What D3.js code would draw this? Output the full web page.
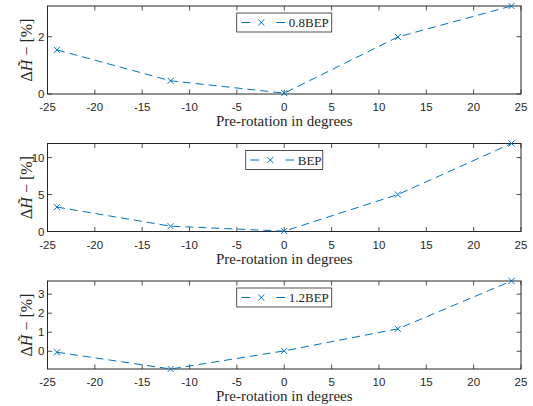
<!DOCTYPE html>
<html>
<head>
<meta charset="utf-8">
<script src="https://cdn.jsdelivr.net/npm/d3@7"></script>
<style>
  body { margin: 0; background: #fff; }
  svg { display: block; }
  .tick-label { font-family: "Liberation Sans", Arial, sans-serif; font-size: 11.5px; fill: #262626; }
  .serif { font-family: "Liberation Serif", "DejaVu Serif", serif; fill: #262626; }
</style>
</head>
<body>
<div id="chart"></div>
<script>
// Data
const rotation = [-24, -12, 0, 12, 24];
const head08 = [1.54, 0.46, 0.03, 1.99, 3.07];
const headBEP = [3.3, 0.72, 0.05, 5.0, 11.9];
const head12 = [-0.05, -0.93, 0.02, 1.18, 3.69];
const seriesLabels = ['0.8BEP', 'BEP', '1.2BEP'];
const xTicks = [-25, -20, -15, -10, -5, 0, 5, 10, 15, 20, 25];
const yTicks08 = [0, 2];
const yTicksBEP = [0, 5, 10];
const yTicks12 = [0, 1, 2, 3];

const width = 533, height = 406;
const color = '#0072BD';
const axisColor = '#262626';

const svg = d3.select('#chart').append('svg')
    .attr('width', width)
    .attr('height', height);

const panels = [
    { values: head08, ticks: yTicks08, label: seriesLabels[0], top: 6, legendW: 95 },
    { values: headBEP, ticks: yTicksBEP, label: seriesLabels[1], top: 143.5, legendW: 77 },
    { values: head12, ticks: yTicks12, label: seriesLabels[2], top: 281, legendW: 95 }
];

const left = 47.5, right = 521, plotH = 88;

const x = d3.scaleLinear().domain([-25, 25]).range([left, right]);

function cross(sel, cx, cy, s) {
    sel.append('path')
        .attr('d', `M${cx - s},${cy - s}L${cx + s},${cy + s}M${cx - s},${cy + s}L${cx + s},${cy - s}`)
        .attr('stroke', color).attr('stroke-width', 1);
}

panels.forEach((p, i) => {
    const top = p.top, bottom = top + plotH;
    const lo = Math.min(0, d3.min(p.values));
    const y = d3.scaleLinear().domain([lo, d3.max(p.values)]).range([bottom, top]);
    const g = svg.append('g');

    // box
    g.append('rect')
        .attr('x', left).attr('y', top)
        .attr('width', right - left).attr('height', plotH)
        .attr('fill', 'none').attr('stroke', axisColor).attr('stroke-width', 1);

    // x ticks (bottom + top, inward)
    xTicks.forEach(t => {
        g.append('line')
            .attr('x1', x(t)).attr('x2', x(t))
            .attr('y1', bottom).attr('y2', bottom - 4.5)
            .attr('stroke', axisColor).attr('stroke-width', 0.8);
        g.append('line')
            .attr('x1', x(t)).attr('x2', x(t))
            .attr('y1', top).attr('y2', top + 4.5)
            .attr('stroke', axisColor).attr('stroke-width', 0.8);
        g.append('text')
            .attr('class', 'tick-label')
            .attr('x', x(t)).attr('y', bottom + 17)
            .attr('text-anchor', 'middle')
            .text(t);
    });

    // y ticks (left + right, inward)
    p.ticks.forEach(t => {
        g.append('line')
            .attr('x1', left).attr('x2', left + 4.5)
            .attr('y1', y(t)).attr('y2', y(t))
            .attr('stroke', axisColor).attr('stroke-width', 0.8);
        g.append('line')
            .attr('x1', right).attr('x2', right - 4.5)
            .attr('y1', y(t)).attr('y2', y(t))
            .attr('stroke', axisColor).attr('stroke-width', 0.8);
        g.append('text')
            .attr('class', 'tick-label')
            .attr('x', left - 3).attr('y', y(t) + 4)
            .attr('text-anchor', 'end')
            .text(t);
    });

    // x label
    g.append('text')
        .attr('class', 'serif')
        .attr('x', (left + right) / 2).attr('y', bottom + 32)
        .attr('text-anchor', 'middle')
        .style('font-size', '15px')
        .text('Pre-rotation in degrees');

    // y label
    const yl = g.append('text')
        .attr('class', 'serif')
        .attr('transform', `translate(32,${(top + bottom) / 2}) rotate(-90)`)
        .attr('text-anchor', 'middle')
        .style('font-size', '16px');
    yl.append('tspan').text('\u0394');
    yl.append('tspan').style('font-style', 'italic').text('H\u0303');
    yl.append('tspan').attr('dx', 4).text('\u2212');
    yl.append('tspan').attr('dx', 4).text('[%]');

    // line
    const pts = rotation.map((r, k) => [r, p.values[k]]);
    const line = d3.line()
        .x(d => x(d[0]))
        .y(d => y(d[1]));
    g.append('path')
        .datum(pts)
        .attr('d', line)
        .attr('fill', 'none')
        .attr('stroke', color)
        .attr('stroke-width', 1)
        .attr('stroke-dasharray', '8,5');

    // markers
    pts.forEach(d => cross(g, x(d[0]), y(d[1]), 3));

    // legend
    const cx = (left + right) / 2;
    const lx = cx - p.legendW / 2, ly = top + 7;
    const lg = g.append('g');
    lg.append('rect')
        .attr('x', lx).attr('y', ly)
        .attr('width', p.legendW).attr('height', 19)
        .attr('fill', '#fff').attr('stroke', axisColor).attr('stroke-width', 0.8);
    [[4.5, 13.5], [39.5, 48.5]].forEach(seg => {
        lg.append('line')
            .attr('x1', lx + seg[0]).attr('x2', lx + seg[1])
            .attr('y1', ly + 9.5).attr('y2', ly + 9.5)
            .attr('stroke', color).attr('stroke-width', 1);
    });
    cross(lg, lx + 24.5, ly + 9.5, 3);
    lg.append('text')
        .attr('class', 'serif')
        .attr('x', lx + 52).attr('y', ly + 14)
        .style('font-size', '13px')
        .text(p.label);
});
</script>
</body>
</html>
